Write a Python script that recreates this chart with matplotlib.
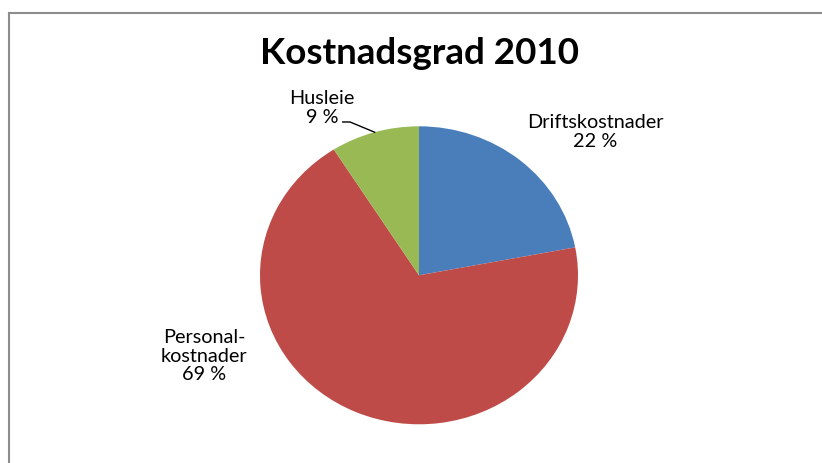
import numpy as np
import matplotlib
matplotlib.use("Agg")
import matplotlib.pyplot as plt
from matplotlib.lines import Line2D

# data
labels = ["Driftskostnader", "Personal-\nkostnader", "Husleie"]
shares = [22, 69, 9]
colors = ["#4A7EBB", "#BE4B48", "#98B954"]
title = "Kostnadsgrad 2010"

W, H = 822, 464
fig = plt.figure(figsize=(W / 100, H / 100), dpi=100)
fig.patch.set_facecolor("white")

# pie is slightly elliptical in the original
cx, cy, rx, ry = 419, 276.3, 159, 149
ax = fig.add_axes([(cx - rx) / W, (H - cy - ry) / H, 2 * rx / W, 2 * ry / H])
wedges, _ = ax.pie(shares, colors=colors, startangle=90, counterclock=False,
                   wedgeprops=dict(linewidth=0))
ax.set_aspect("auto")
ax.set_xlim(-1, 1)
ax.set_ylim(-1, 1)
ax.axis("off")

font = "Lato"
# label positions (data units of the pie axes)
label_pos = [(1.107, 0.968), (-1.352, -0.535), (-0.61, 1.129)]
for w, lab, val, (tx, ty) in zip(wedges, labels, shares, label_pos):
    ax.text(tx, ty, f"{lab}\n{val} %", ha="center", va="center",
            fontsize=14.3, family=font, linespacing=1.1, clip_on=False)

# leader line for Husleie
w = wedges[2]
mid = np.deg2rad((w.theta1 + w.theta2) / 2)
ex, ey = np.cos(mid), np.sin(mid)
ax.add_line(Line2D([-0.48, -0.434, ex], [1.029, 1.029, ey], color="black",
                   lw=1, clip_on=False))

fig.text(cx / W, 1 - 53 / H, title, ha="center", va="center",
         fontsize=26.5, fontweight="bold", family=font)

# chart frame (only top and left edges visible)
fig.add_artist(Line2D([8.5 / W, 8.5 / W], [0, 1 - 13.5 / H], color="#8C8C8C", lw=1.5))
fig.add_artist(Line2D([8.5 / W, 1], [1 - 13.5 / H, 1 - 13.5 / H], color="#8C8C8C", lw=1.5))

fig.savefig("out.png", dpi=100, facecolor="white")
